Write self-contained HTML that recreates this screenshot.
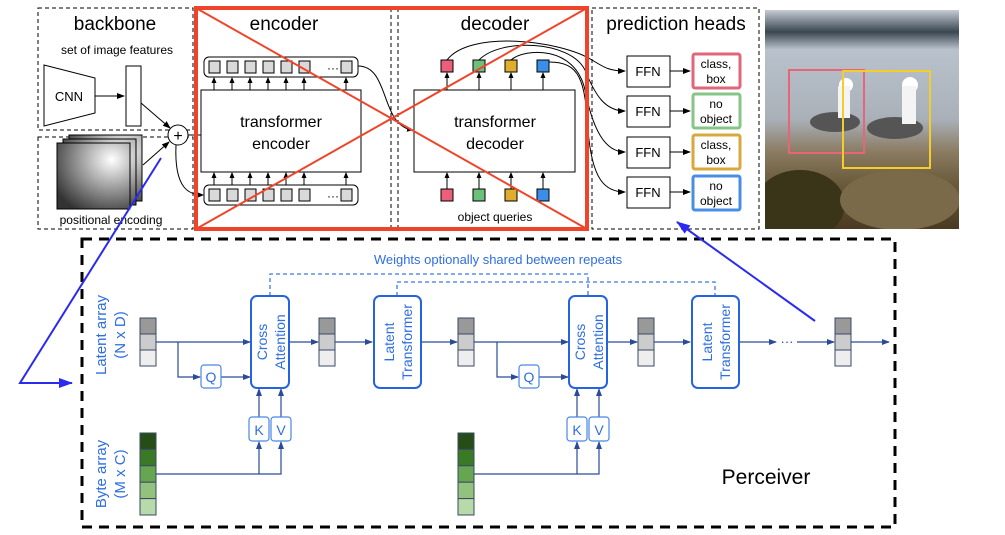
<!DOCTYPE html>
<html><head><meta charset="utf-8"><style>
html,body{margin:0;padding:0;background:#fff;}
svg{display:block;}
text{font-family:"Liberation Sans",sans-serif;}
</style></head><body>
<svg width="1005" height="535" viewBox="0 0 1005 535" xmlns="http://www.w3.org/2000/svg">
<defs>
<marker id="ak" markerWidth="8" markerHeight="8" refX="7" refY="4" orient="auto" markerUnits="userSpaceOnUse"><path d="M0,1 L8,4 L0,7 Z" fill="#000"/></marker>
<marker id="as" markerWidth="6" markerHeight="6" refX="5" refY="3" orient="auto" markerUnits="userSpaceOnUse"><path d="M0,0.5 L6,3 L0,5.5 Z" fill="#000"/></marker>
<marker id="ab" markerWidth="8" markerHeight="8" refX="7" refY="4" orient="auto" markerUnits="userSpaceOnUse"><path d="M0,1 L8,4 L0,7 Z" fill="#2a4a9a"/></marker>
<marker id="abl" markerWidth="14" markerHeight="12" refX="13" refY="6" orient="auto" markerUnits="userSpaceOnUse"><path d="M0,1 L14,6 L0,11 Z" fill="#2b2bf0"/></marker>
<radialGradient id="pe" cx="0.75" cy="0.25" r="0.9"><stop offset="0" stop-color="#fff"/><stop offset="1" stop-color="#333"/></radialGradient>
<linearGradient id="sky" x1="0" y1="0" x2="0" y2="1"><stop offset="0" stop-color="#c5ccd6"/><stop offset="0.1" stop-color="#3a4650"/><stop offset="0.18" stop-color="#b9c2cc"/><stop offset="0.5" stop-color="#a9b0b8"/><stop offset="0.65" stop-color="#8a7a60"/><stop offset="0.8" stop-color="#6a5a3a"/><stop offset="1" stop-color="#4a3a22"/></linearGradient>
<clipPath id="pc"><rect x="765" y="10" width="194" height="219"/></clipPath>
</defs>

<!-- backbone -->
<rect x="38" y="8" width="155" height="122" fill="none" stroke="#000" stroke-dasharray="4,3"/>
<text x="115" y="30" font-size="19" text-anchor="middle">backbone</text>
<text x="117" y="54" font-size="12" text-anchor="middle">set of image features</text>
<path d="M44,65 L95,78 L95,113 L44,126 Z" fill="#fff" stroke="#000"/>
<text x="69" y="101" font-size="13" text-anchor="middle">CNN</text>
<line x1="95" y1="96" x2="124" y2="96" stroke="#000" marker-end="url(#ak)"/>
<rect x="126" y="66" width="15" height="60" fill="#fff" stroke="#000"/>
<line x1="141" y1="103" x2="170" y2="128" stroke="#000" marker-end="url(#ak)"/>
<rect x="38" y="137" width="155" height="92" fill="none" stroke="#000" stroke-dasharray="4,3"/>
<rect x="69" y="135" width="73" height="66" fill="url(#pe)" stroke="#000"/>
<rect x="63" y="139" width="73" height="66" fill="url(#pe)" stroke="#000"/>
<rect x="57" y="143" width="73" height="66" fill="url(#pe)" stroke="#000"/>
<text x="111" y="224" font-size="12" text-anchor="middle">positional encoding</text>
<line x1="143" y1="165" x2="169" y2="142" stroke="#000" marker-end="url(#ak)"/>
<circle cx="178" cy="135" r="10" fill="#fff" stroke="#000"/>
<text x="178" y="141" font-size="16" text-anchor="middle">+</text>
<line x1="188" y1="135" x2="201" y2="135" stroke="#000"/>
<path d="M176,145 C174,190 190,195 203,195" fill="none" stroke="#000" marker-end="url(#as)"/>

<!-- encoder -->
<line x1="391" y1="8" x2="391" y2="229" stroke="#000" stroke-dasharray="4,3"/>
<line x1="398" y1="8" x2="398" y2="229" stroke="#000" stroke-dasharray="4,3"/>
<text x="284" y="30" font-size="19" text-anchor="middle">encoder</text>
<rect x="204" y="57" width="154" height="20" rx="5" fill="#fff" stroke="#000"/>
<rect x="204" y="185" width="154" height="20" rx="5" fill="#fff" stroke="#000"/>
<g fill="#d9d9d9" stroke="#000">
<rect x="209" y="61" width="11" height="12"/><rect x="227" y="61" width="11" height="12"/><rect x="245" y="61" width="11" height="12"/><rect x="263" y="61" width="11" height="12"/><rect x="281" y="61" width="11" height="12"/><rect x="299" y="61" width="11" height="12"/><rect x="341" y="61" width="11" height="12"/>
<rect x="209" y="189" width="11" height="12"/><rect x="227" y="189" width="11" height="12"/><rect x="245" y="189" width="11" height="12"/><rect x="263" y="189" width="11" height="12"/><rect x="281" y="189" width="11" height="12"/><rect x="299" y="189" width="11" height="12"/><rect x="341" y="189" width="11" height="12"/>
</g>
<text x="327" y="72" font-size="12">···</text><text x="327" y="200" font-size="12">···</text>
<rect x="201" y="90" width="160" height="82" fill="#fff" stroke="#000"/>
<text x="281" y="127" font-size="16" text-anchor="middle">transformer</text>
<text x="281" y="149" font-size="16" text-anchor="middle">encoder</text>
<g stroke="#000" marker-end="url(#as)">
<line x1="214" y1="90" x2="214" y2="78"/><line x1="232" y1="90" x2="232" y2="78"/><line x1="250" y1="90" x2="250" y2="78"/><line x1="268" y1="90" x2="268" y2="78"/><line x1="286" y1="90" x2="286" y2="78"/><line x1="304" y1="90" x2="304" y2="78"/><line x1="346" y1="90" x2="346" y2="78"/>
<line x1="214" y1="185" x2="214" y2="173"/><line x1="232" y1="185" x2="232" y2="173"/><line x1="250" y1="185" x2="250" y2="173"/><line x1="268" y1="185" x2="268" y2="173"/><line x1="286" y1="185" x2="286" y2="173"/><line x1="304" y1="185" x2="304" y2="173"/><line x1="346" y1="185" x2="346" y2="173"/>
</g>
<path d="M358,66 C390,66 380,125 412,130" fill="none" stroke="#000" marker-end="url(#as)"/>

<!-- decoder -->
<text x="495" y="30" font-size="19" text-anchor="middle">decoder</text>
<rect x="414" y="90" width="161" height="82" fill="#fff" stroke="#000"/>
<text x="495" y="127" font-size="16" text-anchor="middle">transformer</text>
<text x="495" y="149" font-size="16" text-anchor="middle">decoder</text>
<g stroke="#000">
<rect x="441" y="60" width="12" height="12" fill="#ec5f7a"/><rect x="473" y="60" width="12" height="12" fill="#6cc07c"/><rect x="505" y="60" width="12" height="12" fill="#dfae2c"/><rect x="537" y="60" width="12" height="12" fill="#3a8ee8"/>
<rect x="441" y="189" width="12" height="12" fill="#ec5f7a"/><rect x="473" y="189" width="12" height="12" fill="#6cc07c"/><rect x="505" y="189" width="12" height="12" fill="#dfae2c"/><rect x="537" y="189" width="12" height="12" fill="#3a8ee8"/>
</g>
<g stroke="#000" marker-end="url(#as)">
<line x1="447" y1="90" x2="447" y2="73"/><line x1="479" y1="90" x2="479" y2="73"/><line x1="511" y1="90" x2="511" y2="73"/><line x1="543" y1="90" x2="543" y2="73"/>
<line x1="447" y1="189" x2="447" y2="173"/><line x1="479" y1="189" x2="479" y2="173"/><line x1="511" y1="189" x2="511" y2="173"/><line x1="543" y1="189" x2="543" y2="173"/>
</g>
<text x="495" y="221" font-size="12" text-anchor="middle">object queries</text>
<g fill="none" stroke="#000" marker-end="url(#ak)">
<path d="M447,60 C470,30 560,40 592,60 C605,68 610,71 625,71"/>
<path d="M479,60 C500,38 570,40 585,70 C595,95 605,111 625,111"/>
<path d="M511,60 C525,48 575,45 585,90 C593,130 605,152 625,152"/>
<path d="M549,62 C580,62 585,80 588,130 C592,180 605,192 625,192"/>
</g>

<!-- prediction heads -->
<rect x="592" y="8" width="167" height="221" fill="none" stroke="#000" stroke-dasharray="4,3"/>
<text x="676" y="30" font-size="19" text-anchor="middle">prediction heads</text>
<g fill="#fff" stroke="#000">
<rect x="627" y="56" width="43" height="31"/><rect x="627" y="96" width="43" height="31"/><rect x="627" y="137" width="43" height="31"/><rect x="627" y="177" width="43" height="31"/>
</g>
<g font-size="13" text-anchor="middle"><text x="648" y="76">FFN</text><text x="648" y="116">FFN</text><text x="648" y="157">FFN</text><text x="648" y="197">FFN</text></g>
<g stroke="#000" marker-end="url(#ak)"><line x1="670" y1="71" x2="690" y2="71"/><line x1="670" y1="111" x2="690" y2="111"/><line x1="670" y1="152" x2="690" y2="152"/><line x1="670" y1="192" x2="690" y2="192"/></g>
<g fill="#fff" stroke-width="3"><rect x="693" y="54" width="47" height="34" rx="2" stroke="#e0677a"/><rect x="693" y="94" width="47" height="34" rx="2" stroke="#86c488"/><rect x="693" y="135" width="47" height="34" rx="2" stroke="#d9a83c"/><rect x="693" y="176" width="47" height="34" rx="2" stroke="#4a8ee4"/></g>
<g font-size="12" text-anchor="middle"><text x="716" y="68">class,</text><text x="716" y="83">box</text><text x="716" y="108">no</text><text x="716" y="123">object</text><text x="716" y="149">class,</text><text x="716" y="164">box</text><text x="716" y="190">no</text><text x="716" y="205">object</text></g>

<!-- photo -->
<g clip-path="url(#pc)">
<rect x="765" y="10" width="194" height="219" fill="url(#sky)"/>
<ellipse cx="800" cy="205" rx="45" ry="35" fill="#3a3418"/>
<ellipse cx="900" cy="200" rx="60" ry="30" fill="#7a6a4a"/>
<ellipse cx="835" cy="122" rx="25" ry="10" fill="#555"/><circle cx="846" cy="85" r="7" fill="#fff"/><rect x="838" y="86" width="12" height="32" fill="#f4f4f4"/>
<ellipse cx="895" cy="128" rx="28" ry="11" fill="#555"/><circle cx="910" cy="85" r="8" fill="#fff"/><rect x="902" y="86" width="14" height="38" fill="#f4f4f4"/>
</g>
<rect x="789" y="70" width="75" height="83" fill="none" stroke="#e86478" stroke-width="2"/>
<rect x="843" y="71" width="87" height="97" fill="none" stroke="#f5cc2a" stroke-width="2"/>

<!-- red box and X -->
<rect x="196" y="8" width="391" height="221" fill="none" stroke="#f0442a" stroke-width="4"/>
<line x1="196" y1="8" x2="587" y2="229" stroke="#f0442a" stroke-width="2"/>
<line x1="196" y1="229" x2="587" y2="8" stroke="#f0442a" stroke-width="2"/>

<!-- perceiver -->
<rect x="82" y="239" width="813" height="288" fill="none" stroke="#000" stroke-width="3" stroke-dasharray="10,7"/>
<text x="498" y="264" font-size="13" fill="#2e6ee0" text-anchor="middle">Weights optionally shared between repeats</text>
<g fill="none" stroke="#3a78e6" stroke-width="1.3" stroke-dasharray="4,3">
<path d="M270,296 V274 H588 V296"/><path d="M397,296 V282 H715 V296"/>
</g>
<g font-size="15" fill="#2e6ee0" text-anchor="middle">
<text transform="translate(106,335) rotate(-90)">Latent array</text>
<text transform="translate(125,335) rotate(-90)">(N x D)</text>
<text transform="translate(106,474) rotate(-90)">Byte array</text>
<text transform="translate(125,474) rotate(-90)">(M x C)</text>
</g>
<g stroke="#3a4a6a">
<rect x="140" y="318" width="16" height="16" fill="#999"/><rect x="140" y="334" width="16" height="16" fill="#ccc"/><rect x="140" y="350" width="16" height="16" fill="#eee"/>
<rect x="319" y="318" width="16" height="16" fill="#999"/><rect x="319" y="334" width="16" height="16" fill="#ccc"/><rect x="319" y="350" width="16" height="16" fill="#eee"/>
<rect x="458" y="318" width="16" height="16" fill="#999"/><rect x="458" y="334" width="16" height="16" fill="#ccc"/><rect x="458" y="350" width="16" height="16" fill="#eee"/>
<rect x="638" y="318" width="16" height="16" fill="#999"/><rect x="638" y="334" width="16" height="16" fill="#ccc"/><rect x="638" y="350" width="16" height="16" fill="#eee"/>
<rect x="835" y="318" width="16" height="16" fill="#999"/><rect x="835" y="334" width="16" height="16" fill="#ccc"/><rect x="835" y="350" width="16" height="16" fill="#eee"/>
<rect x="140" y="433" width="16" height="16.4" fill="#274d17"/><rect x="140" y="449.4" width="16" height="16.4" fill="#3a7a25"/><rect x="140" y="465.8" width="16" height="16.4" fill="#66a650"/><rect x="140" y="482.2" width="16" height="16.4" fill="#92c27c"/><rect x="140" y="498.6" width="16" height="16.4" fill="#b8d9a8"/>
<rect x="458" y="433" width="16" height="16.4" fill="#274d17"/><rect x="458" y="449.4" width="16" height="16.4" fill="#3a7a25"/><rect x="458" y="465.8" width="16" height="16.4" fill="#66a650"/><rect x="458" y="482.2" width="16" height="16.4" fill="#92c27c"/><rect x="458" y="498.6" width="16" height="16.4" fill="#b8d9a8"/>
</g>
<g fill="none" stroke="#2a4a9a" stroke-width="1.2">
<line x1="156" y1="342" x2="250" y2="342" marker-end="url(#ab)"/>
<path d="M178,342 V377 H200" marker-end="url(#ab)"/>
<line x1="221" y1="377" x2="250" y2="377" marker-end="url(#ab)"/>
<line x1="289" y1="342" x2="318" y2="342" marker-end="url(#ab)"/>
<line x1="335" y1="342" x2="372" y2="342" marker-end="url(#ab)"/>
<line x1="421" y1="342" x2="457" y2="342" marker-end="url(#ab)"/>
<line x1="474" y1="342" x2="568" y2="342" marker-end="url(#ab)"/>
<path d="M497,342 V377 H518" marker-end="url(#ab)"/>
<line x1="539" y1="377" x2="568" y2="377" marker-end="url(#ab)"/>
<line x1="607" y1="342" x2="637" y2="342" marker-end="url(#ab)"/>
<line x1="654" y1="342" x2="690" y2="342" marker-end="url(#ab)"/>
<line x1="739" y1="342" x2="776" y2="342" marker-end="url(#ab)"/>
<line x1="797" y1="342" x2="834" y2="342" marker-end="url(#ab)"/>
<line x1="851" y1="342" x2="889" y2="342" marker-end="url(#ab)"/>
<path d="M156,474 H281 V442" marker-end="url(#ab)"/>
<line x1="259" y1="474" x2="259" y2="442" marker-end="url(#ab)"/>
<line x1="259" y1="417" x2="259" y2="389" marker-end="url(#ab)"/>
<line x1="281" y1="417" x2="281" y2="389" marker-end="url(#ab)"/>
<path d="M474,474 H599 V442" marker-end="url(#ab)"/>
<line x1="577" y1="474" x2="577" y2="442" marker-end="url(#ab)"/>
<line x1="577" y1="417" x2="577" y2="389" marker-end="url(#ab)"/>
<line x1="599" y1="417" x2="599" y2="389" marker-end="url(#ab)"/>
</g>
<text x="787" y="346" font-size="13" fill="#2a4a9a" text-anchor="middle">···</text>
<g fill="#fff" stroke="#2563e0" stroke-width="2">
<rect x="251" y="296" width="38" height="92" rx="6"/><rect x="374" y="296" width="47" height="92" rx="6"/>
<rect x="569" y="296" width="38" height="92" rx="6"/><rect x="692" y="296" width="47" height="92" rx="6"/>
</g>
<g fill="#fff" stroke="#4a86e8" stroke-width="1.2">
<rect x="201" y="365" width="20" height="23" rx="3"/><rect x="249" y="417" width="20" height="24" rx="3"/><rect x="271" y="417" width="20" height="24" rx="3"/>
<rect x="519" y="365" width="20" height="23" rx="3"/><rect x="567" y="417" width="20" height="24" rx="3"/><rect x="589" y="417" width="20" height="24" rx="3"/>
</g>
<g font-size="14" fill="#2e6ee0" text-anchor="middle">
<text x="211" y="382">Q</text><text x="259" y="435">K</text><text x="281" y="435">V</text>
<text x="529" y="382">Q</text><text x="577" y="435">K</text><text x="599" y="435">V</text>
</g>
<g font-size="14" fill="#2e6ee0" text-anchor="middle">
<text transform="translate(267,342) rotate(-90)">Cross</text><text transform="translate(285,342) rotate(-90)">Attention</text>
<text transform="translate(394,342) rotate(-90)">Latent</text><text transform="translate(412,342) rotate(-90)">Transformer</text>
<text transform="translate(585,342) rotate(-90)">Cross</text><text transform="translate(603,342) rotate(-90)">Attention</text>
<text transform="translate(712,342) rotate(-90)">Latent</text><text transform="translate(730,342) rotate(-90)">Transformer</text>
</g>
<text x="766" y="484" font-size="21" text-anchor="middle">Perceiver</text>

<polyline points="161,158 20,383 72,383" fill="none" stroke="#2b2bf0" stroke-width="2" marker-end="url(#abl)"/>
<line x1="815" y1="321" x2="677" y2="222" stroke="#2b2bf0" stroke-width="2" marker-end="url(#abl)"/>
</svg>
</body></html>
